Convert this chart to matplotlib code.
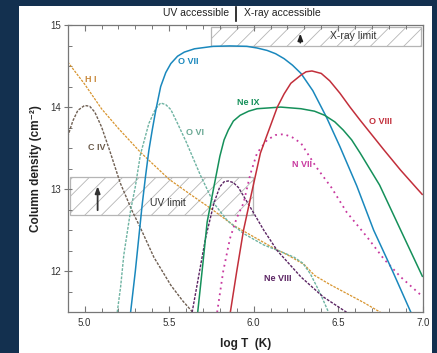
import matplotlib
matplotlib.use("Agg")
import matplotlib.pyplot as plt
from matplotlib.patches import Rectangle
from matplotlib.lines import Line2D
from matplotlib.ticker import MultipleLocator

plt.rcParams['font.family'] = ['Liberation Sans', 'DejaVu Sans']
plt.rcParams['hatch.linewidth'] = 0.6

# ---- data (log T, log N) ----
hi_T = [4.9, 5.0, 5.1, 5.2, 5.33, 5.5, 5.63, 5.75, 5.88, 6.0, 6.12, 6.2, 6.3, 6.36, 6.45, 6.55, 6.65, 6.75]
hi_N = [14.55, 14.28, 13.98, 13.74, 13.45, 13.12, 12.93, 12.76, 12.56, 12.42, 12.28, 12.2, 12.08, 11.95, 11.84, 11.73, 11.62, 11.5]

civ_T = [4.9, 4.93, 4.96, 5.0, 5.03, 5.06, 5.1, 5.15, 5.21, 5.28, 5.33, 5.41, 5.51, 5.58, 5.64]
civ_N = [13.64, 13.83, 13.96, 14.02, 14.01, 13.94, 13.76, 13.46, 13.08, 12.74, 12.53, 12.17, 11.83, 11.64, 11.5]

ovi_T = [5.193, 5.213, 5.232, 5.272, 5.30, 5.33, 5.38, 5.42, 5.45, 5.48, 5.51, 5.55, 5.60, 5.685, 5.764, 5.843, 5.94, 6.06, 6.16, 6.24, 6.29, 6.335, 6.394, 6.443]
ovi_N = [11.5, 11.81, 12.2, 12.74, 13.03, 13.42, 13.80, 13.98, 14.05, 14.03, 13.97, 13.80, 13.58, 13.17, 12.83, 12.62, 12.46, 12.32, 12.24, 12.17, 12.1, 11.97, 11.73, 11.5]

ovii_T = [5.272, 5.30, 5.32, 5.34, 5.36, 5.38, 5.40, 5.42, 5.45, 5.48, 5.51, 5.55, 5.59, 5.65, 5.76, 5.86, 5.96, 6.02, 6.08, 6.13, 6.18, 6.23, 6.28, 6.35, 6.43, 6.51, 6.61, 6.71, 6.82, 6.93]
ovii_N = [11.5, 12.0, 12.4, 12.8, 13.15, 13.47, 13.72, 13.95, 14.25, 14.42, 14.53, 14.62, 14.67, 14.71, 14.74, 14.745, 14.74, 14.72, 14.69, 14.65, 14.59, 14.51, 14.41, 14.20, 13.88, 13.52, 13.04, 12.5, 12.01, 11.5]

neviii_T = [5.636, 5.68, 5.715, 5.765, 5.80, 5.825, 5.85, 5.88, 5.91, 5.98, 6.06, 6.14, 6.28, 6.41, 6.55]
neviii_N = [11.5, 12.0, 12.4, 12.83, 13.03, 13.09, 13.10, 13.08, 13.02, 12.78, 12.5, 12.25, 11.93, 11.69, 11.5]

neix_T = [5.669, 5.70, 5.725, 5.765, 5.80, 5.825, 5.85, 5.88, 5.92, 5.97, 6.02, 6.16, 6.28, 6.36, 6.42, 6.48, 6.53, 6.58, 6.63, 6.745, 6.87, 7.0]
neix_N = [11.5, 12.1, 12.6, 13.03, 13.4, 13.6, 13.72, 13.83, 13.90, 13.95, 13.98, 14.0, 13.98, 13.95, 13.90, 13.82, 13.72, 13.6, 13.44, 13.05, 12.5, 11.93]

nvii_T = [5.784, 5.82, 5.86, 5.90, 5.94, 5.98, 6.02, 6.08, 6.13, 6.18, 6.23, 6.28, 6.37, 6.46, 6.55, 6.67, 6.77, 6.87, 7.0]
nvii_N = [11.5, 12.0, 12.4, 12.65, 12.83, 13.18, 13.44, 13.6, 13.66, 13.67, 13.63, 13.56, 13.27, 13.02, 12.72, 12.42, 12.15, 11.93, 11.69]

oviii_T = [5.862, 5.90, 5.94, 5.98, 6.04, 6.09, 6.14, 6.18, 6.22, 6.28, 6.31, 6.345, 6.40, 6.45, 6.51, 6.57, 6.63, 6.70, 6.77, 6.87, 6.965, 7.0]
oviii_N = [11.5, 12.0, 12.5, 12.88, 13.44, 13.72, 14.0, 14.16, 14.29, 14.39, 14.43, 14.44, 14.41, 14.32, 14.17, 14.0, 13.84, 13.66, 13.48, 13.23, 13.01, 12.93]

series = [
    ("H I", hi_T, hi_N, '#d8952f', (0, (2.0, 1.0)), 0.9),
    ("C IV", civ_T, civ_N, '#6f5f52', (0, (2.0, 1.0)), 1.0),
    ("O VI", ovi_T, ovi_N, '#6eb3a2', (0, (2.0, 1.0)), 1.0),
    ("Ne VIII", neviii_T, neviii_N, '#5b2463', (0, (2.0, 1.0)), 1.0),
    ("N VII", nvii_T, nvii_N, '#c8399f', (0, (1.0, 2.2)), 1.3),
    ("O VII", ovii_T, ovii_N, '#1a88bd', '-', 1.1),
    ("Ne IX", neix_T, neix_N, '#15905a', '-', 1.1),
    ("O VIII", oviii_T, oviii_N, '#c22f3b', '-', 1.1),
]

labels = [
    ("O VII", 5.616, 14.55, '#1a88bd'),
    ("H I", 5.035, 14.33, '#c98a3e'),
    ("C IV", 5.071, 13.51, '#6b5b4b'),
    ("O VI", 5.656, 13.69, '#6aa894'),
    ("Ne IX", 5.970, 14.05, '#15905a'),
    ("O VIII", 6.752, 13.82, '#c22f3b'),
    ("N VII", 6.286, 13.30, '#c8399f'),
    ("Ne VIII", 6.142, 11.91, '#5b2463'),
]

xticks = [5.0, 5.5, 6.0, 6.5, 7.0]
yticks = [12, 13, 14, 15]

W, H = 437, 353
fig = plt.figure(figsize=(W / 100, H / 100), dpi=100)
fig.patch.set_facecolor('#13304f')
fig.patches.append(Rectangle((19 / W, 0), (432 - 19) / W, (H - 6) / H,
                             transform=fig.transFigure, facecolor='white',
                             edgecolor='none', zorder=-10))

ax = fig.add_axes([67.7 / W, (H - 312.3) / H, (422.7 - 67.7) / W, (312.3 - 25) / H])
ax.set_zorder(1)
ax.set_xlim(4.9, 7.0)
ax.set_ylim(11.5, 15.0)

# limit boxes
ax.add_patch(Rectangle((5.75, 14.75), 6.99 - 5.75, 14.97 - 14.75, facecolor='white',
                       edgecolor='#b5b5b5', hatch='//', lw=0.9, zorder=1))
ax.add_patch(Rectangle((4.913, 12.68), 5.994 - 4.913, 13.15 - 12.68, facecolor='white',
                       edgecolor='#b5b5b5', hatch='//', lw=0.9, zorder=1))
ax.annotate('', xy=(6.276, 14.93), xytext=(6.276, 14.75),
            arrowprops=dict(arrowstyle='-|>,head_length=0.4,head_width=0.15', color='#222222', lw=1.2),
            zorder=3)
ax.annotate('', xy=(5.077, 13.07), xytext=(5.077, 12.71),
            arrowprops=dict(arrowstyle='-|>,head_length=0.4,head_width=0.15', color='#333333', lw=1.3),
            zorder=3)
ax.text(6.59, 14.86, 'X-ray limit', fontsize=7.5, color='#333333', ha='center', va='center', zorder=3)
ax.text(5.49, 12.83, 'UV limit', fontsize=7.5, color='#333333', ha='center', va='center', zorder=3)

for name, T, N, c, ls, lw in series:
    ax.plot(T, N, color=c, linestyle=ls, lw=lw, zorder=2, solid_capstyle='butt')

for t, x, y, c in labels:
    ax.text(x, y, t, color=c, fontsize=6.5, fontweight='bold', ha='center', va='center', zorder=4)

for s in ['left', 'bottom', 'top', 'right']:
    ax.spines[s].set_color('#777777')
    ax.spines[s].set_linewidth(0.9)

ax.set_xticks(xticks)
ax.set_xticklabels([f'{v:.1f}' for v in xticks])
ax.set_yticks(yticks)
ax.set_yticklabels([str(v) for v in yticks])
ax.xaxis.set_minor_locator(MultipleLocator(0.1))
ax.yaxis.set_minor_locator(MultipleLocator(0.25))
ax.tick_params(axis='x', which='both', direction='in', top=True, bottom=True,
               color='#777777', labelsize=7, labelcolor='#333333', pad=4)
ax.tick_params(axis='x', which='major', length=4, width=0.8)
ax.tick_params(axis='x', which='minor', length=3, width=0.7)
ax.tick_params(axis='y', which='major', direction='inout', length=6, width=0.8,
               color='#777777', labelsize=7, labelcolor='#333333', pad=2, right=False)
ax.tick_params(axis='y', which='minor', direction='in', length=3, width=0.7,
               color='#777777', right=False)

ax.set_xlabel('log T  (K)', fontsize=8.5, fontweight='bold', color='#222222', labelpad=7)
ax.set_ylabel('Column density (cm\u207b\u00b2)', fontsize=8.5, fontweight='bold', color='#222222', labelpad=6)

fig.text(195.7 / W, 1 - 12.7 / H, 'UV accessible', fontsize=7.5, color='#222222', ha='center', va='center')
fig.text(282.3 / W, 1 - 12.7 / H, 'X-ray accessible', fontsize=7.5, color='#222222', ha='center', va='center')
fig.add_artist(Line2D([236.3 / W, 236.3 / W], [1 - 6.5 / H, 1 - 20.5 / H], color='#111111', lw=1.2,
                      transform=fig.transFigure))

fig.savefig('out.png', dpi=100, facecolor=fig.get_facecolor())
